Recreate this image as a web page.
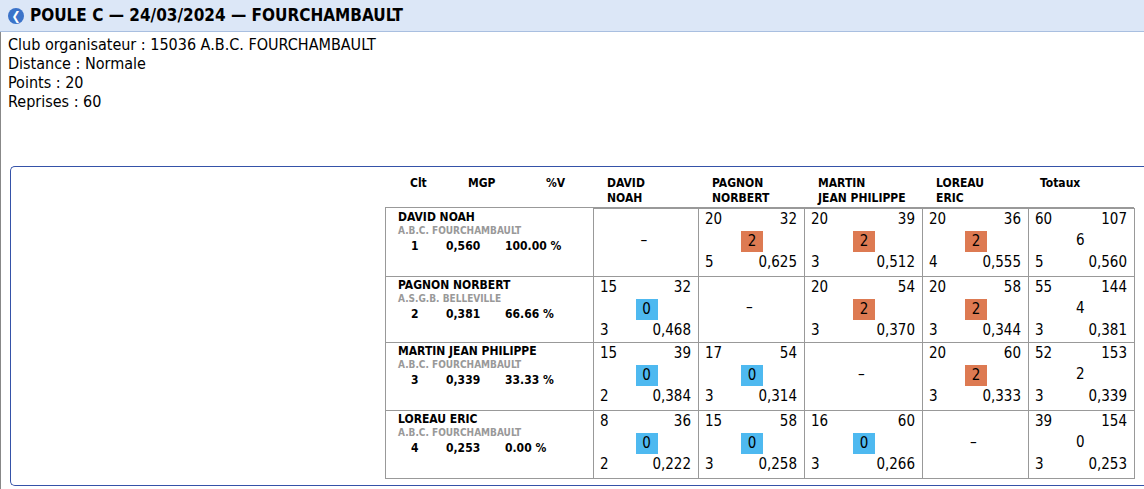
<!DOCTYPE html>
<html lang="fr">
<head>
<meta charset="UTF-8">
<title>Poule C</title>
<script src="https://cdn.jsdelivr.net/npm/chart.js@4.4.1/dist/chart.umd.min.js"></script>
<style>
  body { margin:0; font-family:"DejaVu Sans Condensed","DejaVu Sans",sans-serif; color:#000; background:#fff; width:1144px; height:489px; position:relative; overflow:hidden; }
  #bar { position:absolute; left:0; top:0; width:1144px; height:31px; background:#dce7f7; border-bottom:1px solid #a9bfe0; }
  #bar .ic { position:absolute; left:8px; top:8px; width:16px; height:16px; border-radius:50%; background:#3b73c9; color:#fff; font-size:12px; line-height:16px; text-align:center; font-weight:bold; }
  #bar h1 { position:absolute; left:30px; top:5px; margin:0; font-size:17px; font-weight:bold; }
  #info { position:absolute; left:8px; top:35px; font-size:16px; line-height:19px; }
  #leftline { position:absolute; left:0; top:32px; width:1px; height:457px; background:#888; }
  #box { position:absolute; left:10px; top:166px; width:1140px; height:318px; border:1px solid #3552a8; border-right:none; border-radius:5px 0 0 5px; }
  .t { position:absolute; font-size:12px; white-space:nowrap; }
  .b { font-weight:bold; }
  .cell { position:absolute; border:1px solid #999; box-sizing:border-box; }
  .badge { position:absolute; width:22px; height:21px; line-height:21px; text-align:center; font-size:15px; }
  .n { position:absolute; font-size:15px; }
</style>
</head>
<body>
<div id="bar"><div class="ic">&#10094;</div><h1>POULE C — 24/03/2024 — FOURCHAMBAULT</h1></div>
<div id="leftline"></div>
<div id="info">Club organisateur : 15036 A.B.C. FOURCHAMBAULT<br>Distance : Normale<br>Points : 20<br>Reprises : 60</div>
<div id="box"></div>
<div id="grid"></div>
<script>
const players = ['DAVID NOAH', 'PAGNON NORBERT', 'MARTIN JEAN PHILIPPE', 'LOREAU ERIC'];
const headNames = [['DAVID', 'NOAH'], ['PAGNON', 'NORBERT'], ['MARTIN', 'JEAN PHILIPPE'], ['LOREAU', 'ERIC'], ['Totaux', '']];
const clubs = ['A.B.C. FOURCHAMBAULT', 'A.S.G.B. BELLEVILLE', 'A.B.C. FOURCHAMBAULT', 'A.B.C. FOURCHAMBAULT'];
const clt = ['1', '2', '3', '4'];
const mgp = ['0,560', '0,381', '0,339', '0,253'];
const pctV = ['100.00 %', '66.66 %', '33.33 %', '0.00 %'];
// [points, reprises, points de match, série, moyenne]
const results = [
  [null, [20,32,2,5,'0,625'], [20,39,2,3,'0,512'], [20,36,2,4,'0,555'], [60,107,6,5,'0,560']],
  [[15,32,0,3,'0,468'], null, [20,54,2,3,'0,370'], [20,58,2,3,'0,344'], [55,144,4,3,'0,381']],
  [[15,39,0,2,'0,384'], [17,54,0,3,'0,314'], null, [20,60,2,3,'0,333'], [52,153,2,3,'0,339']],
  [[8,36,0,2,'0,222'], [15,58,0,3,'0,258'], [16,60,0,3,'0,266'], null, [39,154,0,3,'0,253']]
];

const g = document.getElementById('grid');
const colX = [593, 698, 804, 922, 1028, 1134];
const rowY = [208, 276, 342, 410, 478];
function add(cls, x, y, txt, extra) {
  const d = document.createElement('div');
  d.className = cls; d.style.left = x + 'px'; d.style.top = y + 'px';
  if (txt !== undefined) d.textContent = txt;
  if (extra) Object.assign(d.style, extra);
  g.appendChild(d); return d;
}
add('t b', 410, 176, 'Clt'); add('t b', 468, 176, 'MGP'); add('t b', 546, 176, '%V');
headNames.forEach((h, c) => {
  add('t b', colX[c] + (c === 4 ? 12 : 14), 176, h[0]);
  add('t b', colX[c] + 14, 191, h[1]);
});
add('cell', 385, 207, undefined, { width: '749px', height: '1px', border: 'none', background: '#999' });
players.forEach((p, r) => {
  const y = rowY[r];
  add('cell', 385, y, undefined, { width: (colX[0] - 385 + 1) + 'px', height: (rowY[r+1] - y + 1) + 'px', borderTop: 'none', borderRight: 'none' });
  add('t b', 398, y + 2, p);
  add('t b', 398, y + 17, clubs[r], { fontSize: '10px', color: '#999' });
  add('t b', 411, y + 31, clt[r]);
  add('t b', 446, y + 31, mgp[r]);
  add('t b', 505, y + 31, pctV[r]);
  results[r].forEach((v, c) => {
    const x0 = colX[c], w = colX[c+1] - x0, h = rowY[r+1] - y;
    add('cell', x0, y, undefined, { width: (w + 1) + 'px', height: (h + 1) + 'px' });
    if (!v) { add('n', x0 + w/2 - 5, y + h/2 - 11, '–'); return; }
    add('n', x0 + 7, y + 2, v[0]);
    add('n', x0 + w - 7, y + 2, v[1], { transform: 'translateX(-100%)' });
    if (c === 4) add('n', x0 + w/2 - 5, y + 23, v[2]);
    else add('badge', x0 + w/2 - 10, y + 23, v[2], { background: v[2] > 0 ? '#dd7a52' : '#4eb9f0' });
    add('n', x0 + 7, y + 45, v[3]);
    add('n', x0 + w - 7, y + 45, v[4], { transform: 'translateX(-100%)' });
  });
});
</script>
</body>
</html>
